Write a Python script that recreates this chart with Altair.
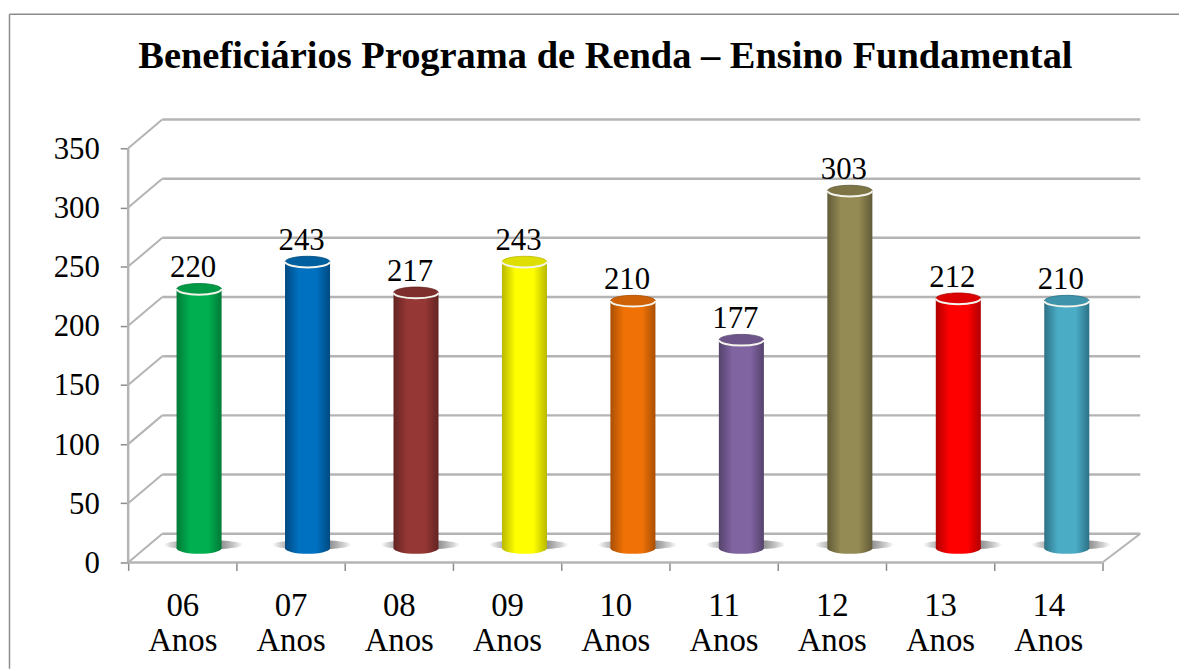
import altair as alt
import pandas as pd

ages = ["06", "07", "08", "09", "10", "11", "12", "13", "14"]
values = [220, 243, 217, 243, 210, 177, 303, 212, 210]
centers = ["#00b050", "#0070c0", "#953735", "#ffff00", "#f07206", "#8064a2", "#948a54", "#ff0000", "#4bacc6"]
edges = ["#007a38", "#004a80", "#632423", "#b8b800", "#a94f04", "#55436c", "#625b38", "#b00000", "#2c7186"]
tops = ["#009a46", "#00609f", "#7e2e2c", "#dede00", "#cf6106", "#6d5589", "#7d7546", "#dd0000", "#3f93aa"]
ticks_y = [0, 50, 100, 150, 200, 250, 300, 350]
DX0, DX1, DV = 0.315, 0.35, 24.3  # depth of the 3D box, in axis units
BASE = 12                         # cylinders stand in the middle of the floor
HALF = 0.208                      # half a cylinder width, in category units
FONT = "Liberation Serif"
GRID = "#b4b4b4"

xs = alt.Scale(domain=[0, 9.35], nice=False, zero=False)
ys = alt.Scale(domain=[0, 374.3], nice=False, zero=False)
X = lambda f: alt.X(f, type="quantitative", scale=xs)
Y = lambda f: alt.Y(f, type="quantitative", scale=ys)
ELLIPSE = "M-1,0A1,.25 0 1,1 1,0A1,.25 0 1,1 -1,0Z"
RIM = "M-1,0A1,.25 0 0,0 1,0"
SHADOW = "M-1,0A1,.12 0 1,1 1,0A1,.12 0 1,1 -1,0Z"

wall = pd.DataFrame({"x": [DX0] * 8, "x2": [9.35] * 8, "y": [v + DV for v in ticks_y]})
diag = pd.DataFrame({"x": [0] * 8, "x2": [DX0] * 8, "y": ticks_y, "y2": [v + DV for v in ticks_y]})
floor_edge = pd.DataFrame({"x": [9], "x2": [9.35], "y": [0], "y2": [DV]})
front = pd.DataFrame({"x": [0], "x2": [9], "y": [0]})
left = pd.DataFrame({"x": [0], "y": [0], "y2": [350]})
bars = pd.DataFrame({
    "c": [i * 1.002 + 0.655 for i in range(9)],
    "x": [i * 1.002 + 0.655 - HALF for i in range(9)],
    "x2": [i * 1.002 + 0.655 + HALF for i in range(9)],
    "y": [BASE] * 9,
    "top": [v + BASE - 1 for v in values],
    "label": [str(v) for v in values],
    "s": [i * 1.002 + 0.695 for i in range(9)],
    "sy": [BASE + 3] * 9,
})

mids = [i * 0.5 for i in range(19)]
age_expr = "[" + ",".join(f"'{a}'" for a in ages) + "]"
base = alt.Chart(left).mark_rule(color=GRID, strokeWidth=2.5).encode(
    x=alt.X("x:Q", scale=xs, axis=alt.Axis(
        values=mids, title=None, domain=False, grid=False, tickColor="#8c8c8c", tickSize=8, tickWidth=1.5,
        tickOpacity={"condition": {"test": "datum.value % 1 != 0", "value": 0}, "value": 1},
        labelExpr=f"datum.value % 1 != 0 ? [{age_expr}[floor(datum.value)], 'Anos'] : ''",
        labelFont=FONT, labelFontSize=33, labelColor="black", labelLineHeight=36,
        labelPadding=19, labelOverlap=False, labelBound=False, labelFlush=False, labelBaseline="top")),
    y=alt.Y("y:Q", scale=ys, axis=alt.Axis(
        values=ticks_y, title=None, domain=False, grid=False, tickColor="#8c8c8c", tickSize=8, tickWidth=1.5,
        labelFont=FONT, labelFontSize=31, labelColor="black", labelPadding=21, labelOverlap=False,
        labelOffset=1, labelBound=False, labelFlush=False)),
    y2=alt.Y2("y2:Q"),
)

layers = [
    base,
    alt.Chart(wall).mark_rule(color=GRID, strokeWidth=2.5).encode(x=X("x"), x2=alt.X2("x2"), y=Y("y")),
    alt.Chart(diag).mark_rule(color=GRID, strokeWidth=2).encode(x=X("x"), x2=alt.X2("x2"), y=Y("y"), y2=alt.Y2("y2")),
    alt.Chart(floor_edge).mark_rule(color=GRID, strokeWidth=2).encode(x=X("x"), x2=alt.X2("x2"), y=Y("y"), y2=alt.Y2("y2")),
    alt.Chart(front).mark_rule(color=GRID, strokeWidth=2.5).encode(x=X("x"), x2=alt.X2("x2"), y=Y("y")),
    alt.Chart(bars).mark_point(
        shape=SHADOW, size=6400, filled=True, opacity=1,
        fill=alt.Gradient(gradient="radial", stops=[
            alt.GradientStop(offset=0, color="#7c7c7c"),
            alt.GradientStop(offset=0.5, color="#989898"),
            alt.GradientStop(offset=0.8, color="#d0d0d0"),
            alt.GradientStop(offset=1, color="#ffffff")]),
    ).encode(x=X("s"), y=Y("sy")),
]

for i in range(9):
    row = bars.iloc[[i]]
    grad = alt.Gradient(gradient="linear", x1=0, x2=1, y1=0, y2=0, stops=[
        alt.GradientStop(offset=0, color=edges[i]),
        alt.GradientStop(offset=0.3, color=centers[i]),
        alt.GradientStop(offset=0.7, color=centers[i]),
        alt.GradientStop(offset=1, color=edges[i])])
    layers.append(alt.Chart(row).mark_point(shape=ELLIPSE, size=2025, filled=True, opacity=1, fill=grad)
                  .encode(x=X("c"), y=Y("y")))
    layers.append(alt.Chart(row).mark_rect(fill=grad).encode(x=X("x"), x2=alt.X2("x2"), y=Y("y"), y2=alt.Y2("top")))
    layers.append(alt.Chart(row).mark_point(shape=ELLIPSE, size=2025, filled=True, opacity=1, fill=tops[i],
                                            stroke=edges[i], strokeWidth=0.8)
                  .encode(x=X("c"), y=Y("top")))
    layers.append(alt.Chart(row).mark_point(shape=RIM, size=2025, filled=False, opacity=1,
                                            stroke="#f4f4ec", strokeWidth=2)
                  .encode(x=X("c"), y=Y("top")))

layers.append(alt.Chart(bars).mark_text(font=FONT, fontSize=31, color="black", baseline="alphabetic", dx=-6, dy=-12)
              .encode(x=X("c"), y=Y("top"), text="label:N"))

# chart frame: top and left border lines
layers.append(alt.Chart(left).mark_rule(color="#8c8c8c", strokeWidth=1.5)
              .encode(x=alt.value(-119.5), y=alt.value(-106), y2=alt.value(553)))
layers.append(alt.Chart(left).mark_rule(color="#8c8c8c", strokeWidth=1.5)
              .encode(x=alt.value(-119.5), x2=alt.value(1058), y=alt.value(-106)))

chart = alt.layer(*layers).properties(
    width=1019, height=446,
    padding={"left": 121, "top": 110, "right": 39, "bottom": 107},
    autosize=alt.AutoSizeParams(type="none"),
    background="white",
    title=alt.TitleParams("Beneficiários Programa de Renda – Ensino Fundamental",
                          font=FONT, fontSize=38.7, fontWeight="bold", color="black",
                          anchor="middle", dx=-29, offset=0, dy=63),
).configure_view(stroke=None)

chart.save("out.html", embed_options={"renderer": "svg", "actions": False})
